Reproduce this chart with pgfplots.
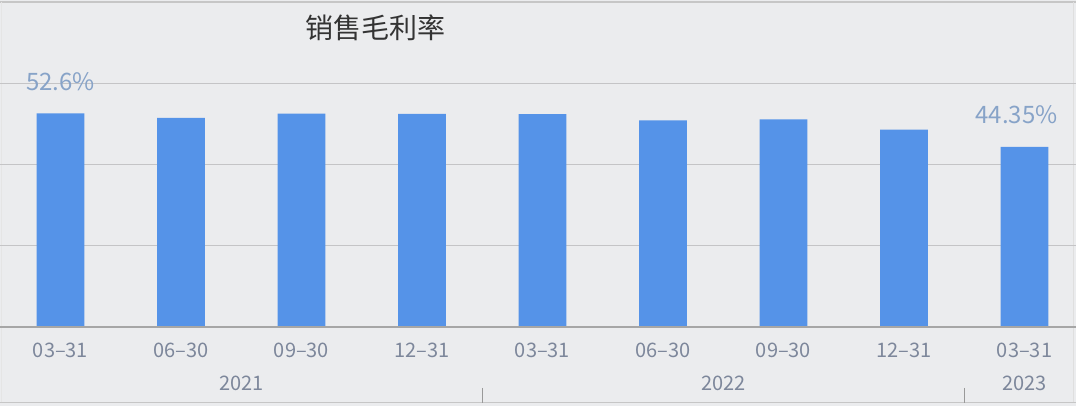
\documentclass[border=0pt]{standalone}
\usepackage{fontspec}
\setmainfont{Noto Sans CJK SC}
\usepackage{pgfplots}
\pgfplotsset{compat=1.18}

\definecolor{bgc}{RGB}{235,236,238}
\definecolor{barc}{RGB}{85,147,232}
\definecolor{tickc}{RGB}{125,135,155}
\definecolor{valc}{RGB}{135,163,200}
\definecolor{gridc}{RGB}{196,196,198}

\begin{document}
\begin{tikzpicture}
\path[use as bounding box] (0,-39.5pt) rectangle (538pt,163.5pt);
\fill[bgc] (0,-39.5pt) rectangle (538pt,163.5pt);
% frame
\draw[gray!45, line width=1pt] (0,162.5pt) -- (538pt,162.5pt);
\draw[gray!25, line width=0.5pt] (536.5pt,-37.75pt) -- (536.5pt,162.5pt);
\draw[gray!45, line width=0.6pt] (0,-37.75pt) -- (538pt,-37.75pt);
\draw[gray!20, line width=0.5pt] (0.5pt,-37.75pt) -- (0.5pt,162.5pt);

\begin{axis}[
    scale only axis,
    width=538pt, height=163.5pt,
    xmin=-0.502, xmax=8.427,
    ymin=0, ymax=80.54,
    axis line style={draw=none},
    ytick={0,20,40,60},
    yticklabels={},
    ymajorgrids,
    grid style={gridc, line width=0.6pt},
    major tick length=0pt,
    xtick={0,...,8},
    xticklabels={03\textendash31,06\textendash30,09\textendash30,12\textendash31,03\textendash31,06\textendash30,09\textendash30,12\textendash31,03\textendash31},
    xticklabel style={font=\fontsize{10}{12}\selectfont, text=tickc, anchor=center, yshift=-11.5pt},
    clip=false,
]
\addplot[ybar, bar width=23.8pt, fill=barc, draw=none,
    point meta=explicit symbolic,
    nodes near coords,
    nodes near coords style={font=\fontsize{12}{14}\selectfont, text=valc, anchor=center, yshift=16pt},
] coordinates {
    (0,52.6) [52.6\%]
    (1,51.5) []
    (2,52.55) []
    (3,52.5) []
    (4,52.4) []
    (5,50.9) []
    (6,51.15) []
    (7,48.6) []
    (8,44.35) [\hspace*{-8pt}44.35\%]
};
\draw[gray!70, line width=0.6pt] (axis cs:-0.502,0) -- (axis cs:8.427,0);
\node[font=\fontsize{14}{16}\selectfont, text=black!80] at (axis cs:2.61,73.6) {销售毛利率};
\node[font=\fontsize{10}{12}\selectfont, text=tickc] at (axis cs:1.5,0) [yshift=-28pt] {2021};
\node[font=\fontsize{10}{12}\selectfont, text=tickc] at (axis cs:5.5,0) [yshift=-28pt] {2022};
\node[font=\fontsize{10}{12}\selectfont, text=tickc] at (axis cs:8,0) [yshift=-28pt] {2023};
\draw[gray!80, line width=0.5pt] ([yshift=-30.5pt]axis cs:3.5,0) -- ([yshift=-38pt]axis cs:3.5,0);
\draw[gray!80, line width=0.5pt] ([yshift=-30.5pt]axis cs:7.5,0) -- ([yshift=-38pt]axis cs:7.5,0);
\end{axis}
\end{tikzpicture}
\end{document}
